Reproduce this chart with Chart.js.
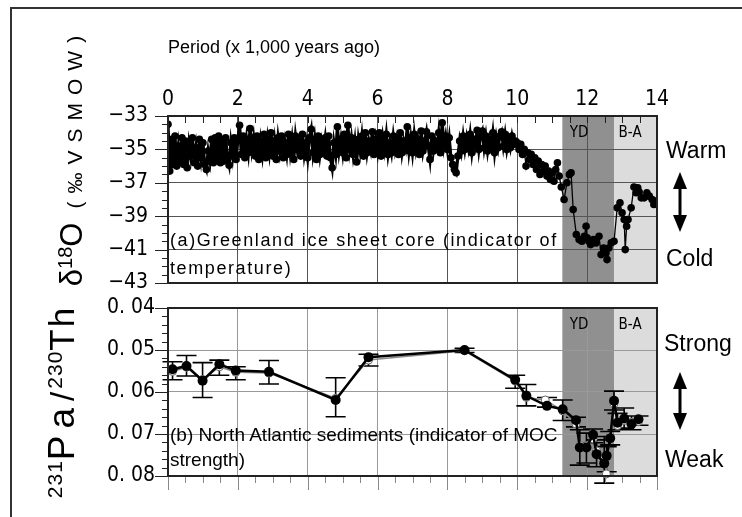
<!DOCTYPE html>
<html>
<head>
<meta charset="utf-8">
<script src="https://cdn.jsdelivr.net/npm/chart.js@4.4.1/dist/chart.umd.min.js"></script>
<style>
  body { margin: 0; background: #fff; }
  #wrap { position: relative; width: 742px; height: 517px; overflow: hidden; font-family: 'Liberation Sans', Arial, sans-serif; }
  #frame { position: absolute; left: 10px; top: 7px; width: 760px; height: 540px; border-top: 2px solid #333; border-left: 2px solid #333; }
  canvas { position: absolute; left: 0; }
  #cTop { top: 0; }
  #cBot { top: 290px; }
  .lbl { position: absolute; white-space: nowrap; color: #000; }
  .side { font-size: 23px; line-height: 26px; }
</style>
</head>
<body>
<div id="wrap">
  <div id="frame"></div>
  <canvas id="cTop" width="742" height="300"></canvas>
  <canvas id="cBot" width="742" height="227"></canvas>

  <div class="lbl" style="left:72px;top:157px;transform:translate(-50%,-50%) rotate(-90deg);">
    <span style="font-size:31px">δ</span><span style="font-size:20px;position:relative;top:-10px">18</span><span style="font-size:31px">O</span><span style="font-size:21px;letter-spacing:8px;margin-left:14px">(‰VSMOW)</span>
  </div>
  <div class="lbl" style="left:62px;top:402px;transform:translate(-50%,-50%) rotate(-90deg);">
    <span style="font-size:21px;position:relative;top:-12px;letter-spacing:1px">231</span><span style="font-size:37px;letter-spacing:7px">Pa</span><span style="font-size:33px;margin-right:3px">/</span><span style="font-size:21px;position:relative;top:-12px;letter-spacing:1px">230</span><span style="font-size:35px;letter-spacing:2px">Th</span>
  </div>

  <div class="lbl" style="left:170px;top:226px;font-size:18px;line-height:28px;letter-spacing:1.6px;">(a)Greenland ice sheet core (indicator of<br>temperature)</div>
  <div class="lbl" style="left:170px;top:422px;font-size:19px;line-height:25px;">(b) North Atlantic sediments (indicator of MOC<br>strength)</div>

  <div class="lbl side" style="left:666px;top:137px;">Warm</div>
  <div class="lbl side" style="left:666px;top:245px;">Cold</div>
  <div class="lbl side" style="left:664px;top:330px;">Strong</div>
  <div class="lbl side" style="left:665px;top:446px;">Weak</div>

  <svg width="742" height="517" style="position:absolute;left:0;top:0;">
    <g fill="#000" stroke="#000">
      <line x1="680" y1="184" x2="680" y2="220" stroke-width="3"/>
      <polygon points="680,172 673,189 687,189" stroke="none"/>
      <polygon points="680,232 673,215 687,215" stroke="none"/>
      <line x1="680" y1="384" x2="680" y2="418" stroke-width="3"/>
      <polygon points="680,372 673,389 687,389" stroke="none"/>
      <polygon points="680,430 673,413 687,413" stroke="none"/>
    </g>
  </svg>
</div>

<script>
// period axis (x 1,000 years ago)
const ageTicks = [0, 2, 4, 6, 8, 10, 12, 14];
const isoTicks = [-43, -41, -39, -37, -35, -33];
const mocTicks = [0.04, 0.05, 0.06, 0.07, 0.08];

// shaded intervals
const bandNames = ['YD', 'B-A'];
const bandStart = [11.29, 12.77];
const bandEnd = [12.77, 14];
const bandLabelAge = [11.77, 13.23];

// (a) Greenland ice core delta 18O
const isoAge = [
  0, 0.05, 0.1, 0.15, 0.2, 0.25, 0.3, 0.35, 0.4, 0.45,
  0.5, 0.55, 0.6, 0.65, 0.7, 0.75, 0.8, 0.85, 0.9, 0.95,
  1, 1.05, 1.1, 1.15, 1.2, 1.25, 1.3, 1.35, 1.4, 1.45,
  1.5, 1.55, 1.6, 1.65, 1.7, 1.75, 1.8, 1.85, 1.9, 1.95,
  2, 2.05, 2.1, 2.15, 2.2, 2.25, 2.3, 2.35, 2.4, 2.45,
  2.5, 2.55, 2.6, 2.65, 2.7, 2.75, 2.8, 2.85, 2.9, 2.95,
  3, 3.05, 3.1, 3.15, 3.2, 3.25, 3.3, 3.35, 3.4, 3.45,
  3.5, 3.55, 3.6, 3.65, 3.7, 3.75, 3.8, 3.85, 3.9, 3.95,
  4, 4.05, 4.1, 4.15, 4.2, 4.25, 4.3, 4.35, 4.4, 4.45,
  4.5, 4.55, 4.6, 4.65, 4.7, 4.75, 4.8, 4.85, 4.9, 4.95,
  5, 5.05, 5.1, 5.15, 5.2, 5.25, 5.3, 5.35, 5.4, 5.45,
  5.5, 5.55, 5.6, 5.65, 5.7, 5.75, 5.8, 5.85, 5.9, 5.95,
  6, 6.05, 6.1, 6.15, 6.2, 6.25, 6.3, 6.35, 6.4, 6.45,
  6.5, 6.55, 6.6, 6.65, 6.7, 6.75, 6.8, 6.85, 6.9, 6.95,
  7, 7.05, 7.1, 7.15, 7.2, 7.25, 7.3, 7.35, 7.4, 7.45,
  7.5, 7.55, 7.6, 7.65, 7.7, 7.75, 7.8, 7.85, 7.9, 7.95,
  8, 8.05, 8.1, 8.15, 8.2, 8.25, 8.3, 8.35, 8.4, 8.45,
  8.5, 8.55, 8.6, 8.65, 8.7, 8.75, 8.8, 8.85, 8.9, 8.95,
  9, 9.05, 9.1, 9.15, 9.2, 9.25, 9.3, 9.35, 9.4, 9.45,
  9.5, 9.55, 9.6, 9.65, 9.7, 9.75, 9.8, 9.85, 9.9, 9.95,
  10, 10.05, 10.1, 10.15, 10.2, 10.25, 10.3, 10.35, 10.4, 10.45,
  10.5, 10.55, 10.6, 10.65, 10.7, 10.75, 10.8, 10.85, 10.9, 10.95,
  11, 11.05, 11.1, 11.15, 11.2,
  11.26, 11.34, 11.42, 11.49, 11.54, 11.6, 11.69, 11.77, 11.85, 11.92,
  11.97, 12, 12.05, 12.1, 12.18, 12.25, 12.34, 12.4, 12.47, 12.54,
  12.57, 12.62, 12.69, 12.77, 12.86, 12.94, 13, 13.06, 13.09, 13.13,
  13.17, 13.26, 13.34, 13.4, 13.45, 13.49, 13.55, 13.63, 13.71, 13.78,
  13.86, 13.91, 13.97
];
const isoValue = [
  -33.5, -36.3, -34.4, -35.9, -34.2, -36.0, -34.8, -35.7, -34.3, -35.9,
  -34.5, -36.1, -34.7, -35.4, -34.3, -35.8, -34.9, -36.0, -34.4, -35.5,
  -34.6, -35.9, -36.2, -35.1, -35.7, -34.4, -35.8, -34.3, -35.6, -34.2,
  -35.8, -34.5, -35.7, -34.3, -35.5, -35.95, -34.6, -35.4, -34.3, -35.6,
  -34.4, -33.55, -35.3, -34.2, -35.5, -34.4, -35.2, -33.75, -35.0, -34.3,
  -35.4, -34.2, -35.6, -34.5, -35.3, -34.1, -35.5, -34.4, -35.2, -34.0,
  -35.4, -34.5, -35.6, -34.3, -35.1, -34.2, -35.5, -34.6, -35.3, -34.1,
  -35.2, -34.4, -35.6, -34.2, -35.0, -34.5, -35.4, -34.1, -35.3, -34.6,
  -35.5, -34.3, -33.8, -35.2, -34.4, -35.6, -34.2, -35.3, -34.5, -35.0,
  -34.3, -35.4, -34.2, -35.5, -36.1, -34.6, -35.3, -33.65, -35.1, -34.4,
  -35.2, -34.1, -35.5, -33.55, -35.0, -34.3, -35.3, -34.5, -35.75, -34.4,
  -35.1, -34.2, -35.4, -34.0, -35.2, -34.5, -35.0, -33.95, -35.3, -34.4,
  -35.1, -34.0, -35.4, -34.3, -35.0, -34.1, -35.3, -34.6, -35.2, -34.2,
  -35.0, -34.4, -35.3, -34.0, -35.2, -34.5, -34.9, -33.65, -35.1, -34.3,
  -35.2, -34.1, -35.0, -34.4, -35.3, -33.9, -35.1, -34.5, -33.95, -34.8,
  -35.6, -34.2, -35.1, -34.5, -34.9, -34.0, -35.2, -33.4, -34.8, -34.2,
  -35.0, -34.3, -35.5, -35.9, -36.2, -36.4, -35.4, -34.5, -35.1, -34.2,
  -35.0, -34.3, -34.9, -34.1, -35.2, -34.4, -34.8, -33.85, -35.0, -34.2,
  -33.9, -34.9, -34.2, -35.1, -34.4, -34.8, -34.0, -35.2, -34.3, -34.9,
  -34.2, -33.95, -34.8, -34.1, -35.0, -34.4, -34.9, -34.2, -34.7, -34.5,
  -34.6, -35.0, -34.7, -35.3, -35.0, -36.0, -35.2, -35.6, -35.3, -35.9,
  -35.5, -36.2, -35.7, -36.5, -35.9, -36.3, -36.0, -36.6, -36.3, -36.8,
  -36.4, -36.9, -36.2, -35.8, -36.6,
  -37.25, -38.0, -37.0, -36.5, -36.4, -38.6, -40.1, -40.4, -40.5, -40.2,
  -39.6, -40.3, -40.5, -40.7, -40.4, -40.6, -40.2, -41.3, -40.9, -41.2,
  -41.6, -40.9, -40.6, -40.5, -38.5, -38.2, -38.8, -39.2, -41.0, -39.6,
  -39.2, -38.5, -37.25, -37.6, -37.3, -37.55, -37.9, -37.9, -37.6, -37.8,
  -38.0, -38.3, -38.1
];

// (b) North Atlantic sediments 231Pa/230Th, filled symbols with error bars
const mocAge = [0.13, 0.53, 0.99, 1.47, 1.94, 2.89, 4.80, 5.74, 8.49, 9.94, 10.26, 10.85, 11.30,
  11.68, 11.79, 11.98, 12.17, 12.27, 12.49, 12.56, 12.66, 12.77, 12.87, 13.06, 13.27, 13.47];
const mocValue = [0.0546, 0.0538, 0.0573, 0.0534, 0.0549, 0.0552, 0.0619, 0.0517, 0.0500, 0.0571, 0.0609, 0.0633, 0.0641,
  0.0667, 0.0732, 0.0732, 0.0702, 0.0748, 0.0770, 0.0752, 0.0710, 0.0621, 0.0673, 0.0663, 0.0676, 0.0665];
const mocErrTop = [0.0528, 0.0513, 0.0530, 0.0524, 0.0540, 0.0525, 0.0566, 0.0510, 0.0496, 0.0560, 0.0582, 0.0613, 0.0619,
  0.0660, 0.0690, 0.0698, 0.0688, 0.0714, 0.0706, 0.0730, 0.0694, 0.0598, 0.0651, 0.0638, 0.0657, 0.0657];
const mocErrBottom = [0.0571, 0.0562, 0.0613, 0.0560, 0.0571, 0.0581, 0.0659, 0.0538, 0.0506, 0.0591, 0.0633, 0.0636, 0.0668,
  0.0683, 0.0774, 0.0769, 0.0721, 0.0778, 0.0817, 0.0790, 0.0726, 0.0643, 0.0690, 0.0686, 0.0690, 0.0679];

// open symbols
const openAge = [0.13, 0.53, 0.99, 1.47, 1.94, 2.89, 4.80, 5.74, 8.49, 9.94, 10.26, 10.80, 11.30,
  11.68, 11.79, 11.98, 12.17, 12.27, 12.49, 12.55, 12.66, 12.77, 12.87, 13.06, 13.27, 13.47];
const openValue = [0.0551, 0.0541, 0.0570, 0.0540, 0.0553, 0.0555, 0.0615, 0.0524, 0.0502, 0.0574, 0.0613, 0.0619, 0.0645,
  0.0676, 0.0727, 0.0728, 0.0712, 0.0740, 0.0760, 0.0795, 0.0705, 0.0628, 0.0680, 0.0668, 0.0672, 0.0670];

const narrow = "'DejaVu Sans Condensed', 'DejaVu Sans', sans-serif";
const sans = "'Liberation Sans', Arial, sans-serif";

// background bands + their labels
const bandsPlugin = {
  id: 'bands',
  beforeDraw(chart) {
    const { ctx, chartArea: a, scales: { x } } = chart;
    const fills = ['#909090', '#dcdcdc'];
    ctx.save();
    bandNames.forEach((name, i) => {
      const x0 = x.getPixelForValue(bandStart[i]);
      const x1 = x.getPixelForValue(bandEnd[i]);
      ctx.fillStyle = fills[i];
      ctx.fillRect(x0, a.top, x1 - x0, a.bottom - a.top);
    });
    ctx.restore();
  },
  afterDraw(chart) {
    const { ctx, chartArea: a, scales: { x } } = chart;
    ctx.save();
    ctx.fillStyle = '#000';
    ctx.font = 'condensed 15px ' + narrow;
    ctx.textAlign = 'center';
    ctx.textBaseline = 'middle';
    bandNames.forEach((name, i) => {
      ctx.fillText(name, x.getPixelForValue(bandLabelAge[i]), a.top + 17);
    });
    ctx.restore();
  }
};

// minor ticks and frame
function tickPlugin(yMin, yMax, yStep, yMajor, topTicks, bottomTicks) {
  return {
    id: 'ticks',
    afterDraw(chart) {
      const { ctx, chartArea: a, scales: { x, y } } = chart;
      ctx.save();
      ctx.strokeStyle = '#222';
      ctx.lineWidth = 1;
      ctx.beginPath();
      const n = Math.round((yMax - yMin) / yStep);
      for (let i = 0; i <= n; i++) {
        const v = yMin + i * yStep;
        const py = Math.round(y.getPixelForValue(v)) + 0.5;
        const major = Math.abs(Math.round((v - yMin) / yMajor) * yMajor - (v - yMin)) < 1e-9;
        ctx.moveTo(a.left - (major ? 13 : 6), py);
        ctx.lineTo(a.left, py);
      }
      if (topTicks) {
        for (let i = 1; i < 28; i++) {
          const px = Math.round(x.getPixelForValue(i * 0.5)) + 0.5;
          ctx.moveTo(px, a.top);
          ctx.lineTo(px, a.top + 7);
        }
      }
      ctx.stroke();
      if (bottomTicks) {
        ctx.strokeStyle = '#888';
        ctx.beginPath();
        for (let i = 0; i <= 28; i++) {
          const px = Math.round(x.getPixelForValue(i * 0.5)) + 0.5;
          ctx.moveTo(px, a.bottom);
          ctx.lineTo(px, a.bottom + (i % 4 === 0 ? 14 : 7));
        }
        ctx.stroke();
      }
      ctx.strokeStyle = '#222';
      ctx.lineWidth = 2;
      ctx.strokeRect(a.left, a.top, a.right - a.left, a.bottom - a.top);
      ctx.restore();
    }
  };
}

// vertical error bars on the filled series
const errorBarsPlugin = {
  id: 'errorBars',
  beforeDatasetsDraw(chart) {
    const { ctx, scales: { x, y } } = chart;
    ctx.save();
    ctx.strokeStyle = '#000';
    ctx.lineWidth = 1.6;
    ctx.beginPath();
    mocAge.forEach((age, i) => {
      const px = x.getPixelForValue(age);
      const y0 = y.getPixelForValue(mocErrTop[i]);
      const y1 = y.getPixelForValue(mocErrBottom[i]);
      ctx.moveTo(px, y0); ctx.lineTo(px, y1);
      ctx.moveTo(px - 10, y0); ctx.lineTo(px + 10, y0);
      ctx.moveTo(px - 10, y1); ctx.lineTo(px + 10, y1);
    });
    ctx.stroke();
    ctx.restore();
  }
};

const tickFont = { family: narrow, size: 21, weight: 'condensed' };
const fitX = h => s => { s.height = h; s.paddingLeft = 0; s.paddingRight = 0; };
const fitY = s => { s.width = 168; s.paddingTop = 0; s.paddingBottom = 0; };

new Chart(document.getElementById('cTop'), {
  type: 'line',
  data: {
    datasets: [{
      data: isoAge.map((a, i) => ({ x: a, y: isoValue[i] })),
      borderColor: '#000',
      borderWidth: 1.3,
      segment: { borderWidth: c => (c.p0.parsed.x < 10 ? 3.2 : 1.3) },
      pointRadius: 3.8,
      pointBackgroundColor: '#000',
      pointBorderWidth: 0,
      tension: 0
    }]
  },
  options: {
    responsive: false,
    animation: false,
    devicePixelRatio: 1,
    layout: { padding: { left: 0, right: 85, top: 0, bottom: 17 } },
    plugins: { legend: { display: false }, tooltip: { enabled: false } },
    scales: {
      x: {
        type: 'linear', position: 'top', min: 0, max: 14,
        afterFit: fitX(116),
        afterBuildTicks: s => { s.ticks = ageTicks.map(v => ({ value: v })); },
        ticks: { padding: 4, font: tickFont, color: '#000', maxRotation: 0, autoSkip: false },
        grid: { color: '#555', lineWidth: 1, drawTicks: false },
        border: { display: false },
        title: {
          display: true, text: 'Period (x 1,000 years ago)', align: 'start', color: '#000',
          font: { family: sans, size: 18 }, padding: { top: 37, bottom: 0 }
        }
      },
      y: {
        min: -43, max: -33,
        afterFit: fitY,
        afterBuildTicks: s => { s.ticks = isoTicks.map(v => ({ value: v })); },
        ticks: { padding: 20, font: tickFont, color: '#000', callback: v => String(v).replace('-', '\u2212') },
        grid: { color: '#555', lineWidth: 1, drawTicks: false },
        border: { display: false }
      }
    }
  },
  plugins: [bandsPlugin, tickPlugin(-43, -33, 0.5, 2, true, false)]
});

new Chart(document.getElementById('cBot'), {
  type: 'line',
  data: {
    datasets: [{
      data: mocAge.map((a, i) => ({ x: a, y: mocValue[i] })),
      borderColor: '#000',
      borderWidth: 2.5,
      pointRadius: 5,
      pointBackgroundColor: '#000',
      pointBorderWidth: 0,
      tension: 0,
      clip: false
    }, {
      data: openAge.map((a, i) => ({ x: a, y: openValue[i] })),
      borderColor: '#888',
      borderWidth: 1.5,
      pointRadius: 4,
      pointBackgroundColor: '#fff',
      pointBorderColor: '#666',
      pointBorderWidth: 1,
      tension: 0,
      clip: false
    }]
  },
  options: {
    responsive: false,
    animation: false,
    devicePixelRatio: 1,
    layout: { padding: { left: 0, right: 85, top: 18, bottom: 0 } },
    plugins: { legend: { display: false }, tooltip: { enabled: false } },
    scales: {
      x: {
        type: 'linear', min: 0, max: 14,
        afterFit: fitX(41),
        afterBuildTicks: s => { s.ticks = ageTicks.map(v => ({ value: v })); },
        ticks: { display: false },
        grid: { color: '#999', lineWidth: 1, drawTicks: false },
        border: { display: false }
      },
      y: {
        reverse: true, min: 0.04, max: 0.08,
        afterFit: fitY,
        afterBuildTicks: s => { s.ticks = mocTicks.map(v => ({ value: v })); },
        ticks: { padding: 13, font: tickFont, color: '#000', callback: v => v.toFixed(2).replace('.', '. ') },
        grid: { color: '#999', lineWidth: 1, drawTicks: false },
        border: { display: false }
      }
    }
  },
  plugins: [bandsPlugin, errorBarsPlugin, tickPlugin(0.04, 0.08, 0.002, 0.01, false, true)]
});
</script>
</body>
</html>
